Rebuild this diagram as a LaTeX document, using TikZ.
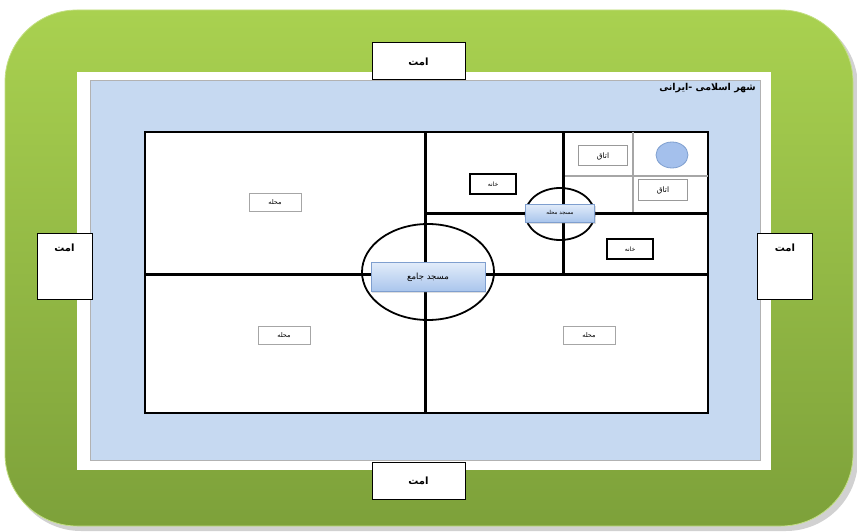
\documentclass[tikz,border=0pt]{standalone}
\usepackage{fontspec}
\newfontfamily\arabicfont[Script=Arabic]{DejaVu Sans}
\TeXXeTstate=1
\usetikzlibrary{shapes.geometric,shadows}
\definecolor{greentop}{HTML}{A9D150}
\definecolor{greenbot}{HTML}{7DA13A}
\definecolor{bluebg}{HTML}{C6D9F1}
\definecolor{mosqtop}{HTML}{E2ECFA}
\definecolor{mosqbot}{HTML}{A9C5EC}
\definecolor{mosqline}{HTML}{7F9FCF}
\definecolor{roomcirc}{HTML}{A4C0EC}
\newcommand{\fatext}[1]{{\arabicfont\beginR #1\endR}}
\begin{document}
\begin{tikzpicture}[x=1pt,y=-1pt,
  ommat/.style={draw=black,line width=1pt,fill=white,inner sep=0pt,
    minimum width=93pt,minimum height=37pt,font=\arabicfont\fontsize{10}{12}\selectfont\bfseries},
  ommatside/.style={draw=black,line width=1pt,fill=white,inner xsep=0pt,inner ysep=8pt,
    minimum width=55pt,text height=10pt,text depth=40pt,anchor=north,
    font=\arabicfont\fontsize{10}{12}\selectfont\bfseries},
  mahalle/.style={draw=gray!70,line width=1pt,fill=white,inner sep=0pt,
    minimum width=52pt,minimum height=18pt,font=\arabicfont\fontsize{6.5}{7}\selectfont},
  khane/.style={draw=black,line width=1.6pt,fill=white,inner sep=0pt,
    minimum width=46pt,minimum height=20pt,font=\arabicfont\fontsize{6}{7}\selectfont},
  otagh/.style={draw=gray!80,line width=1pt,fill=white,inner sep=0pt,
    minimum width=49pt,minimum height=20pt,font=\arabicfont\fontsize{7.5}{8}\selectfont},
  mosque/.style={draw=mosqline,line width=0.8pt,top color=mosqtop,bottom color=mosqbot,
    inner sep=0pt,drop shadow={opacity=0.25,shadow xshift=1pt,shadow yshift=-1.5pt}},
  grid/.style={line width=3pt,black},
  thin/.style={line width=1.4pt,gray!70},
  ring/.style={draw=black,line width=1.8pt,ellipse,inner sep=0pt}
]
\useasboundingbox (0,0) rectangle (857,532);
% green outer
\fill[black,opacity=0.18,rounded corners=72pt] (9,15) rectangle (858,531);
\path[top color=greentop,bottom color=greenbot,draw=greentop!70!white,line width=0.8pt,
  rounded corners=72pt] (5,10) rectangle (853,526);
% white frame and blue field
\fill[white] (77,72) rectangle (771,470);
\draw[fill=bluebg,draw=gray!60,line width=0.8pt] (90,80) rectangle (760,460);
\node[anchor=north east,inner sep=0pt,font=\arabicfont\fontsize{9.5}{10}\selectfont\bfseries]
  (title) at (756,83) {\fatext{شهر اسلامی -ایرانی}};
% main city rectangle
\node[draw=black,line width=2pt,fill=white,minimum width=563pt,minimum height=281pt,
  inner sep=0pt] (city) at (426.5,272.5) {};
% inner grid lines
\coordinate (vA) at (425,132);
\coordinate (vB) at (425,413);
\coordinate (hA) at (145,274);
\coordinate (hB) at (708,274);
\coordinate (v2A) at (563,132);
\coordinate (v2B) at (563,274);
\coordinate (h2A) at (425,213);
\coordinate (h2B) at (708,213);
\coordinate (t1A) at (633,132);
\coordinate (t1B) at (633,213);
\coordinate (t2A) at (563,176);
\coordinate (t2B) at (708,176);
\draw[thin] (t1A) -- (t1B);
\draw[thin] (t2A) -- (t2B);
\draw[grid] (vA) -- (vB);
\draw[grid] (hA) -- (hB);
\draw[grid] (v2A) -- (v2B);
\draw[grid] (h2A) -- (h2B);
% circles
\node[ring,minimum width=132pt,minimum height=96pt] (bigring) at (428,272) {};
\node[ring,minimum width=69pt,minimum height=52pt] (smallring) at (560,214) {};
% mosques
\node[mosque,minimum width=114pt,minimum height=29pt,
  font=\arabicfont\fontsize{8.5}{9}\selectfont] (jame) at (428,277) {\fatext{مسجد جامع}};
\node[mosque,minimum width=69pt,minimum height=18pt,
  font=\arabicfont\fontsize{5.5}{6}\selectfont] (mahmosque) at (560,213) {\fatext{مسجد محله}};
% neighbourhood labels
\node[mahalle] (m1) at (275,202) {\fatext{محله}};
\node[mahalle] (m2) at (284,335) {\fatext{محله}};
\node[mahalle] (m3) at (589,335) {\fatext{محله}};
% houses
\node[khane] (k1) at (493,184) {\fatext{خانه}};
\node[khane] (k2) at (630,249) {\fatext{خانه}};
% rooms
\node[otagh] (o1) at (603,156) {\fatext{اتاق}};
\node[otagh] (o2) at (663,190) {\fatext{اتاق}};
\node[draw=mosqline,line width=0.8pt,fill=roomcirc,ellipse,minimum width=32pt,
  minimum height=26pt,inner sep=0pt] (roomc) at (672,155) {};
% ommat boxes
\node[ommat] (top) at (418.5,61.5) {\fatext{امت}};
\node[ommat] (bottom) at (418.5,480.5) {\fatext{امت}};
\node[ommatside] (left) at (64.5,233) {\fatext{امت}};
\node[ommatside] (right) at (785,233) {\fatext{امت}};
\end{tikzpicture}
\end{document}
